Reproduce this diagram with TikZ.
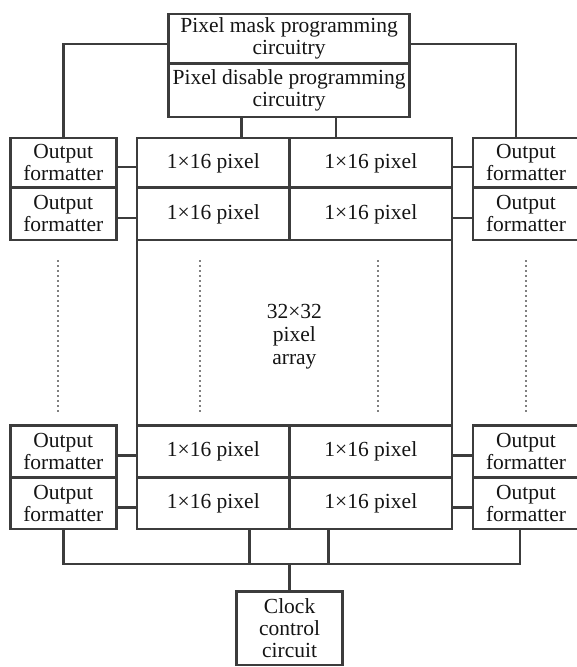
\documentclass[tikz,border=0pt]{standalone}
\usepackage{fontspec}
\setmainfont{Liberation Serif}
\definecolor{ln}{HTML}{3C3C3C}
\definecolor{tx}{HTML}{141414}
\begin{document}
\begin{tikzpicture}[x=1pt,y=-1pt,
  box/.style={draw=ln,line width=2.9pt,inner sep=0pt,outer sep=0pt,align=center,text=tx,anchor=north west,
    font=\fontsize{21.5}{22}\selectfont},
  wire/.style={draw=ln,line width=2.7pt},
  dotline/.style={draw=ln!65,line width=2pt,dash pattern=on 1.8pt off 3.2pt}]
\clip (0,0) rectangle (577,667);
\useasboundingbox (0,0) rectangle (577,667);
% top boxes
\node[box,minimum width=241pt,minimum height=49.7pt] (mask) at (168.6,14) {Pixel mask programming\\circuitry};
\node[box,minimum width=241pt,minimum height=53.3pt] (disable) at (168.6,63.7) {Pixel disable programming\\circuitry};
% array outline and label
\node[box,minimum width=315pt,minimum height=391pt] (array) at (137,138) {};
\node[align=center,text=tx,font=\fontsize{21.5}{23}\selectfont] (arraytxt) at (294.4,337) {32×32\\pixel\\array};
% cells
\node[box,minimum width=152.7pt,minimum height=49.7pt] (P11) at (137,138) {1×16 pixel};
\node[box,minimum width=162.3pt,minimum height=49.7pt] (P12) at (289.7,138) {1×16 pixel};
\node[box,minimum width=152.7pt,minimum height=52.3pt] (P21) at (137,187.7) {1×16 pixel};
\node[box,minimum width=162.3pt,minimum height=52.3pt] (P22) at (289.7,187.7) {1×16 pixel};
\node[box,minimum width=152.7pt,minimum height=52.3pt] (P31) at (137,425.5) {1×16 pixel};
\node[box,minimum width=162.3pt,minimum height=52.3pt] (P32) at (289.7,425.5) {1×16 pixel};
\node[box,minimum width=152.7pt,minimum height=51.2pt] (P41) at (137,477.8) {1×16 pixel};
\node[box,minimum width=162.3pt,minimum height=51.2pt] (P42) at (289.7,477.8) {1×16 pixel};
% output formatters
\node[box,minimum width=106pt,minimum height=49.7pt] (LF1) at (10.3,138) {Output\\formatter};
\node[box,minimum width=106pt,minimum height=52.3pt] (LF2) at (10.3,187.7) {Output\\formatter};
\node[box,minimum width=106pt,minimum height=52.3pt] (LF3) at (10.3,425.5) {Output\\formatter};
\node[box,minimum width=106pt,minimum height=51.2pt] (LF4) at (10.3,477.8) {Output\\formatter};
\node[box,minimum width=106pt,minimum height=49.7pt] (RF1) at (473,138) {Output\\formatter};
\node[box,minimum width=106pt,minimum height=52.3pt] (RF2) at (473,187.7) {Output\\formatter};
\node[box,minimum width=106pt,minimum height=52.3pt] (RF3) at (473,425.5) {Output\\formatter};
\node[box,minimum width=106pt,minimum height=51.2pt] (RF4) at (473,477.8) {Output\\formatter};
% clock
\node[box,minimum width=105.8pt,minimum height=73.5pt] (clock) at (236.7,591.5) {Clock\\control\\circuit};
% top connectors
\draw[wire] ([yshift=-5pt]mask.west) -| (LF1.north);
\draw[wire] ([yshift=-5pt]mask.east) -| ([xshift=-10pt]RF1.north);
\coordinate (t1) at (241.8,0);
\coordinate (t2) at (336,0);
\draw[wire] (disable.south -| t1) -- (P11.north -| t1);
\draw[wire] (disable.south -| t2) -- (P12.north -| t2);
% stubs
\foreach \f/\c in {LF1/P11,LF2/P21,LF3/P31,LF4/P41}
  \draw[wire] ([yshift=-4pt]\f.east) -| (\c.west);
\foreach \f/\c in {RF1/P12,RF2/P22,RF3/P32,RF4/P42}
  \draw[wire] ([yshift=-4pt]\f.west) -| (\c.east);
% bottom bus
\coordinate (bR) at (520,564);
\coordinate (b1) at (249.5,564);
\coordinate (b2) at (328.3,564);
\draw[wire] (LF4.south) |- (bR) -- (bR |- RF4.south);
\draw[wire] (b1) -- (b1 |- P41.south);
\draw[wire] (b2) -- (b2 |- P42.south);
\draw[wire] (clock.north) -- (clock.north |- bR);
% dotted continuation lines
\foreach \x in {58,200,378,525.6}
  \draw[dotline] (\x,260) -- (\x,412);
\end{tikzpicture}
\end{document}
